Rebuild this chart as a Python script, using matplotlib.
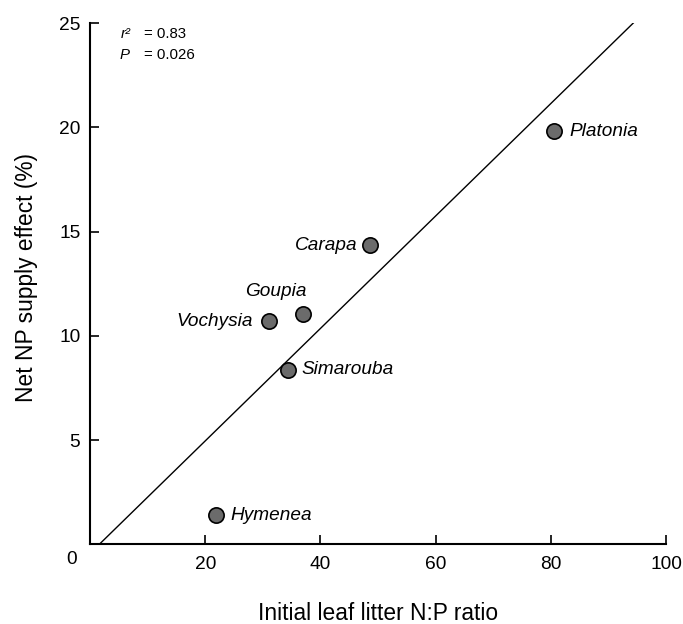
import numpy as np
import matplotlib
matplotlib.use("Agg")
import matplotlib.pyplot as plt

# Leaf litter N:P ratio vs net NP supply effect per species
species = ["Hymenea", "Simarouba", "Vochysia", "Goupia", "Carapa", "Platonia"]
np_ratio = [21.8, 34.3, 31.0, 36.9, 48.6, 80.6]
np_effect = [1.4, 8.36, 10.7, 11.05, 14.35, 19.8]
xticks = [20, 40, 60, 80, 100]
yticks = [5, 10, 15, 20, 25]

# label offsets (points) and alignment per species
label_pos = {
    "Hymenea": ((11, 0), "left"),
    "Simarouba": ((10, 0), "left"),
    "Vochysia": ((-11, 0), "right"),
    "Goupia": ((3, 16), "right"),
    "Carapa": ((-9, 0), "right"),
    "Platonia": ((11, 0), "left"),
}

plt.rcParams["font.family"] = ["Liberation Sans", "DejaVu Sans"]

W, H = 683, 624
fig = plt.figure(figsize=(W / 100, H / 100), dpi=100)
ax = fig.add_axes([90 / W, 1 - 544.3 / H, (666 - 90) / W, (544.3 - 23) / H])

# least-squares regression line, clipped to the y range
slope, intercept = np.polyfit(np_ratio, np_effect, 1)
y_line = np.array([0.0, 25.0])
x_line = (y_line - intercept) / slope
ax.plot(x_line, y_line, color="black", lw=1.0, zorder=2)

ax.plot(np_ratio, np_effect, "o", ms=11, mfc="#6b6b6b", mec="black",
        mew=1.2, zorder=3, clip_on=False)

for name, x, y in zip(species, np_ratio, np_effect):
    (dx, dy), ha = label_pos[name]
    ax.annotate(name, (x, y), xytext=(dx, dy), textcoords="offset points",
                ha=ha, va="center", fontsize=13.7, style="italic")

ax.set_xlim(0, 100)
ax.set_ylim(0, 25)
ax.set_xticks(xticks)
ax.set_yticks(yticks)
ax.tick_params(direction="in", length=6.5, width=1.2, labelsize=13.8)
ax.tick_params(axis="x", pad=8.5)
ax.tick_params(axis="y", pad=7)
for side in ("top", "right"):
    ax.spines[side].set_visible(False)
for side in ("left", "bottom"):
    ax.spines[side].set_linewidth(1.5)

fig.text(72 / W, 1 - 560 / H, "0", ha="center", va="center", fontsize=13.8)

# axis titles
fig.text(378 / W, 1 - 613 / H, "Initial leaf litter N:P ratio",
         ha="center", va="center", fontsize=16.4)
fig.text(27 / W, 1 - 277 / H, "Net NP supply effect (%)", rotation=90,
         ha="center", va="center", fontsize=16.4)

# statistics box
fig.text(121 / W, 1 - 34 / H, "r²", ha="left", va="center", fontsize=10.8,
         style="italic")
fig.text(144 / W, 1 - 34 / H, "= 0.83", ha="left", va="center", fontsize=10.8)
fig.text(120 / W, 1 - 55 / H, "P", ha="left", va="center", fontsize=10.8,
         style="italic")
fig.text(144 / W, 1 - 55 / H, "= 0.026", ha="left", va="center", fontsize=10.8)

fig.savefig("out.png", dpi=100)
